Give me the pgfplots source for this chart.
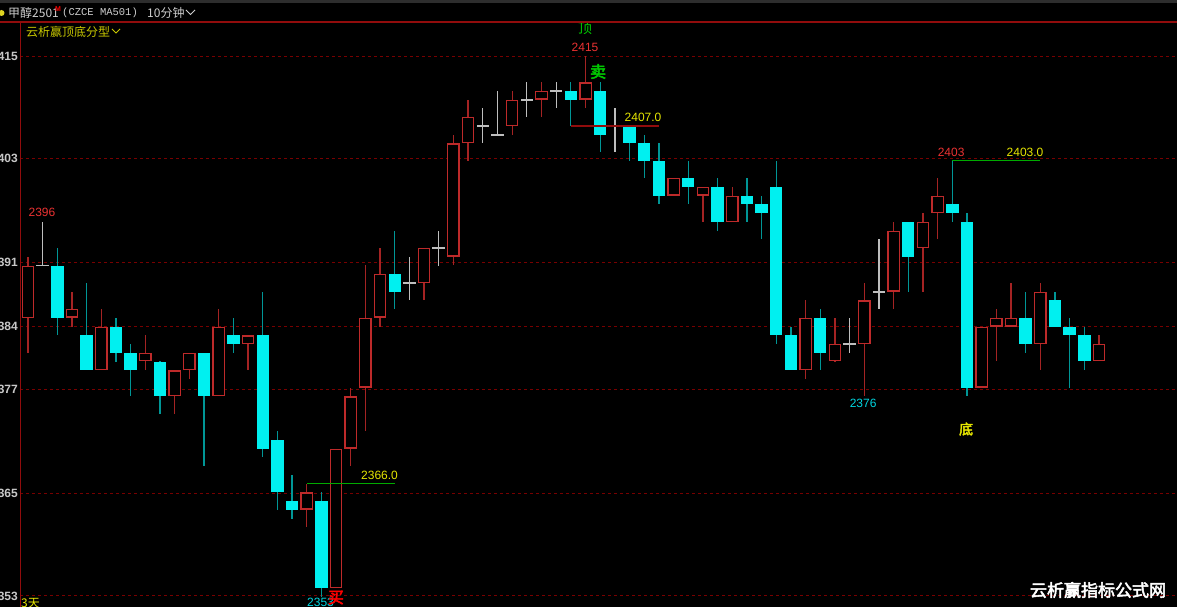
\documentclass[border=0pt]{standalone}
\usepackage{pgfplots}
\pgfplotsset{compat=1.18}
\usepackage{pgfplotstable}
\usepackage{fontspec}
\setmainfont{Liberation Sans}
\newfontfamily\cjk{Noto Sans CJK SC}
\newfontfamily\cjkb[FakeBold=3]{Noto Sans CJK SC}
\newfontfamily\monof{Liberation Mono}
\definecolor{gridred}{RGB}{120,0,0}
\definecolor{axred}{RGB}{145,12,12}
\definecolor{upred}{RGB}{190,42,42}
\definecolor{upwick}{RGB}{165,35,35}
\definecolor{dncyan}{RGB}{0,240,240}
\definecolor{dnwick}{RGB}{0,150,150}
\definecolor{dojigray}{RGB}{190,190,190}
\definecolor{ticklab}{RGB}{200,200,200}
\definecolor{ylw}{RGB}{230,230,0}
\definecolor{olivey}{RGB}{200,200,0}
\definecolor{grn}{RGB}{0,200,0}
\definecolor{lineg}{RGB}{0,170,0}
\definecolor{lblred}{RGB}{235,50,50}
\definecolor{lblcyan}{RGB}{0,215,225}
\definecolor{hdr}{RGB}{205,205,205}
\definecolor{topstrip}{RGB}{45,45,45}

\pgfplotstableread{
i O H L C
0 2385 2392 2381 2391
3 2385 2388 2384 2386
5 2379 2386 2379 2384
8 2380 2383 2379 2381
10 2376 2379 2374 2379
11 2379 2381 2378 2381
13 2376 2386 2376 2384
15 2382 2383 2379 2383
19 2363 2366 2361 2365
21 2354 2370 2354 2370
22 2370 2377 2368 2376
23 2377 2391 2372 2385
24 2385 2393 2384 2390
27 2389 2393 2387 2393
29 2392 2406 2391 2405
30 2405 2410 2403 2408
33 2407 2411 2406 2410
35 2410 2412 2408 2411
38 2410 2415 2409 2412
44 2399 2401 2399 2401
46 2399 2400 2396 2400
48 2396 2400 2396 2399
53 2379 2387 2378 2385
55 2380 2385 2380 2382
57 2382 2389 2376 2387
59 2388 2396 2386 2395
61 2393 2397 2388 2396
62 2397 2401 2394 2399
65 2377 2384 2377 2384
66 2384 2386 2380 2385
67 2384 2389 2384 2385
69 2382 2389 2379 2388
73 2380 2383 2380 2382
}\up

\pgfplotstableread{
i O H L C
2 2391 2393 2383 2385
4 2383 2389 2379 2379
6 2384 2385 2380 2381
7 2381 2382 2376 2379
9 2380 2380 2374 2376
12 2381 2381 2368 2376
14 2383 2385 2381 2382
16 2383 2388 2369 2370
17 2371 2372 2363 2365
18 2364 2367 2362 2363
20 2364 2365 2353 2354
25 2390 2395 2386 2388
37 2411 2412 2407 2410
39 2411 2412 2404 2406
41 2407 2407 2403 2405
42 2405 2406 2401 2403
43 2403 2405 2398 2399
45 2401 2403 2398 2400
47 2400 2401 2395 2396
49 2399 2401 2396 2398
50 2398 2399 2394 2397
51 2400 2403 2382 2383
52 2383 2384 2379 2379
54 2385 2386 2379 2381
60 2396 2396 2388 2392
63 2398 2403 2396 2397
64 2396 2397 2376 2377
68 2385 2388 2381 2382
70 2387 2388 2384 2384
71 2384 2385 2377 2383
72 2383 2384 2379 2380
}\down

\pgfplotstableread{
i O H L C
1 2391 2396 2391 2391
26 2389 2392 2387 2389
28 2393 2395 2391 2393
31 2407 2409 2405 2407
32 2406 2411 2406 2406
34 2410 2412 2408 2410
36 2411 2412 2409 2411
40 2407 2409 2404 2407
56 2382 2385 2381 2382
58 2388 2394 2386 2388
}\doji

\pgfplotsset{
  candle/.style 2 args={draw=none, fill=none, mark=none,
    mark options={draw=none, fill=none, opacity=0},
    error bars/.cd, y dir=both, y explicit, error mark=none,
    error bar style={draw=#1, line width=#2, line cap=butt, line join=miter, opacity=1}},
}

\begin{document}
\begin{tikzpicture}[x=1pt,y=1pt]
\useasboundingbox (0,0) rectangle (1177,607);
\clip (0,0) rectangle (1177,607);
\fill[black] (0,0) rectangle (1177,607);
\fill[topstrip] (0,604) rectangle (1177,607);
\begin{axis}[
  at={(20pt,0pt)}, anchor=south west,
  scale only axis, width=1157pt, height=585pt,
  xmin=-0.545, xmax=78.32, ymin=2351.86, ymax=2418.90,
  axis line style={draw=none},
  xtick=\empty,
  ytick={2415,2403.24,2391.38,2383.97,2376.79,2364.92,2353.13},
  yticklabels={415,403,391,384,377,365,353},
  major tick length=0pt,
  ymajorgrids,
  grid style={gridred, dash pattern=on 3pt off 3pt, line width=1pt},
  yticklabel style={font=\bfseries\fontsize{12}{12}\selectfont, text=ticklab, anchor=east, inner sep=0pt, xshift=-2pt},
  /pgf/number format/assume math mode=true,
  clip=true,
]
% ---- up (red hollow) candles: wick, outline, hollow interior
\addplot[candle={upwick}{1.3pt}]
  table[x=i, y expr=(\thisrow{H}+\thisrow{L})/2, y error expr=(\thisrow{H}-\thisrow{L})/2] {\up};
\addplot[candle={upred}{12.6pt}]
  table[x=i, y expr=(\thisrow{O}+\thisrow{C})/2, y error expr=(\thisrow{C}-\thisrow{O})/2] {\up};
\addplot[candle={black}{10pt}]
  table[x=i, y expr=(\thisrow{O}+\thisrow{C})/2, y error expr=(\thisrow{C}-\thisrow{O})/2-0.15] {\up};
% ---- down (cyan filled) candles
\addplot[candle={dnwick}{1.3pt}]
  table[x=i, y expr=(\thisrow{H}+\thisrow{L})/2, y error expr=(\thisrow{H}-\thisrow{L})/2] {\down};
\addplot[candle={dncyan}{12.4pt}]
  table[x=i, y expr=(\thisrow{O}+\thisrow{C})/2, y error expr=(\thisrow{O}-\thisrow{C})/2] {\down};
% ---- doji (gray cross)
\addplot[candle={dojigray}{1.3pt}]
  table[x=i, y expr=(\thisrow{H}+\thisrow{L})/2, y error expr=(\thisrow{H}-\thisrow{L})/2] {\doji};
\addplot[candle={dojigray}{12.6pt}]
  table[x=i, y=O, y error expr=0.075] {\doji};
% ---- level lines
\addplot[axred, line width=1.4pt, mark=none] coordinates {(37,2407) (43,2407)};
\addplot[lineg, line width=1.3pt, mark=none] coordinates {(63,2403) (69,2403)};
\addplot[lineg, line width=1.3pt, mark=none] coordinates {(19,2366) (25,2366)};
% ---- labels
\node[text=grn, font=\cjk\fontsize{14}{14}\selectfont, inner sep=0pt] at (axis cs:37.97,2418.2) {顶};
\node[text=lblred, font=\fontsize{12}{12}\selectfont, inner sep=0pt] at (axis cs:37.97,2415.97) {2415};
\node[text=grn, font=\cjkb\fontsize{16}{16}\selectfont, inner sep=0pt] at (axis cs:38.86,2413.22) {卖};
\node[text=ylw, font=\fontsize{12}{12}\selectfont, inner sep=0pt] at (axis cs:41.92,2408.01) {2407.0};
\node[text=lblred, font=\fontsize{12}{12}\selectfont, inner sep=0pt] at (axis cs:62.92,2404.0) {2403};
\node[text=ylw, font=\fontsize{12}{12}\selectfont, inner sep=0pt] at (axis cs:67.96,2404.0) {2403.0};
\node[text=lblred, font=\fontsize{12}{12}\selectfont, inner sep=0pt] at (axis cs:0.954,2397.07) {2396};
\node[text=lblcyan, font=\fontsize{12}{12}\selectfont, inner sep=0pt] at (axis cs:56.92,2375.23) {2376};
\node[text=ylw, font=\cjkb\fontsize{14}{14}\selectfont, inner sep=0pt] at (axis cs:63.94,2372.25) {底};
\node[text=ylw, font=\fontsize{12}{12}\selectfont, inner sep=0pt] at (axis cs:23.96,2366.93) {2366.0};
\node[text=lblcyan, font=\fontsize{12}{12}\selectfont, inner sep=0pt] at (axis cs:19.94,2352.35) {2353};
\node[text=red, font=\cjkb\fontsize{16}{16}\selectfont, inner sep=0pt] at (axis cs:20.99,2352.94) {买};
\end{axis}
% frame lines
\draw[axred, line width=1.5pt] (0,585) -- (1177,585);
\draw[axred, line width=1.5pt] (20.5,0) -- (20.5,585);
% header
\fill[yellow!85!black] (1.5,594) circle (3);
\node[anchor=west, inner sep=0pt, text=hdr, font=\cjk\fontsize{12}{12}\selectfont] at (8,594) {甲醇2501};
\node[anchor=west, inner sep=0pt, text=red, font=\bfseries\fontsize{7}{7}\selectfont] at (55,597.5) {M};
\node[anchor=west, inner sep=0pt, text=hdr, font=\monof\fontsize{10.5}{12}\selectfont] at (62,594) {(CZCE MA501)};
\node[anchor=west, inner sep=0pt, text=hdr, font=\cjk\fontsize{12}{12}\selectfont] at (147,594) {10分钟};
\draw[hdr, line width=1pt] (186,597) -- (190.5,592.5) -- (195,597);
\node[anchor=west, inner sep=0pt, text=olivey, font=\cjk\fontsize{12}{12}\selectfont] at (26,575) {云析赢顶底分型};
\draw[olivey, line width=1pt] (112,578) -- (116,574) -- (120,578);
\node[anchor=west, inner sep=0pt, text=ylw, font=\cjk\fontsize{12}{12}\selectfont] at (21,4) {3天};
% watermark
\node[inner sep=0pt, text=white, font=\cjkb\fontsize{17}{17}\selectfont] at (1098,17) {云析赢指标公式网};
\end{tikzpicture}
\end{document}
